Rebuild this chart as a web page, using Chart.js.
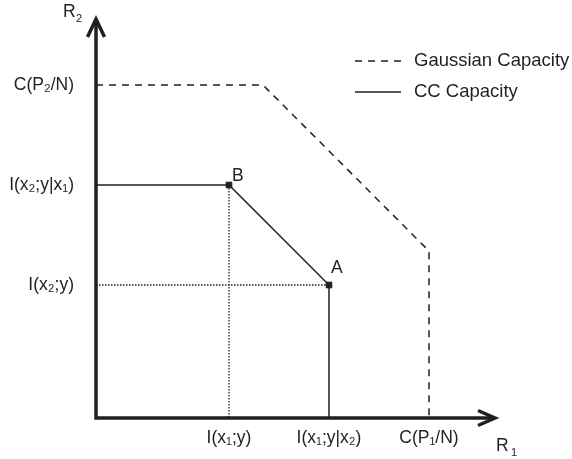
<!DOCTYPE html>
<html>
<head>
<meta charset="utf-8">
<script src="https://cdn.jsdelivr.net/npm/chart.js@4"></script>
<style>
  body { margin: 0; background: #fff; }
  canvas { display: block; }
</style>
</head>
<body>
<canvas id="rate" width="572" height="459"></canvas>
<script>
// rate region values (R1, R2)
const xTickValues = [1.33, 2.33, 3.33];
const xTickLabels = ['I(x₁;y)', 'I(x₁;y|x₂)', 'C(P₁/N)'];
const yTickValues = [1.33, 2.33, 3.33];
const yTickLabels = ['I(x₂;y)', 'I(x₂;y|x₁)', 'C(P₂/N)'];

const gaussR1 = [0, 1.67, 3.33, 3.33];
const gaussR2 = [3.33, 3.33, 1.67, 0];
const ccR1 = [0, 1.33, 2.33, 2.33];
const ccR2 = [2.33, 2.33, 1.33, 0];

const cornerNames = ['B', 'A'];
const cornerR1 = [1.33, 2.33];
const cornerR2 = [2.33, 1.33];

const axisMax = 4;
const ink = '#231f20';
const fontFam = "'Liberation Sans', Arial, sans-serif";

function pts(xs, ys) {
    return xs.map((x, i) => ({x: x, y: ys[i]}));
}

// where the corner letters sit relative to their point
const nameOffset = {B: [3, -4], A: [2, -12]};

// plugin: arrows, axis titles, point names and the legend
const extras = {
    id: 'extras',
    afterDatasetsDraw(chart) {
        const ctx = chart.ctx;
        const sx = chart.scales.x, sy = chart.scales.y;
        const x0 = sx.getPixelForValue(0), y0 = sy.getPixelForValue(0);
        const xEnd = sx.getPixelForValue(axisMax), yEnd = sy.getPixelForValue(axisMax);
        ctx.save();
        ctx.strokeStyle = ink;
        ctx.lineWidth = 3.5;
        ctx.lineJoin = 'miter';
        ctx.lineCap = 'butt';
        // axes
        ctx.beginPath();
        ctx.moveTo(x0, y0 + 1.7);
        ctx.lineTo(x0, yEnd + 1);
        ctx.moveTo(x0 - 1.7, y0);
        ctx.lineTo(xEnd - 1, y0);
        ctx.stroke();
        // arrow heads
        ctx.beginPath();
        ctx.moveTo(x0 - 8.5, yEnd + 19);
        ctx.lineTo(x0, yEnd + 1);
        ctx.lineTo(x0 + 8.5, yEnd + 19);
        ctx.moveTo(xEnd - 18, y0 - 7.5);
        ctx.lineTo(xEnd - 1, y0);
        ctx.lineTo(xEnd - 18, y0 + 7.5);
        ctx.stroke();

        ctx.fillStyle = ink;
        ctx.textBaseline = 'alphabetic';
        ctx.textAlign = 'left';
        // axis names
        ctx.font = '17.5px ' + fontFam;
        ctx.fillText('R', 63, 17);
        ctx.fillText('R', 496, 451);
        ctx.font = '11px ' + fontFam;
        ctx.fillText('2', 76, 22);
        ctx.fillText('1', 511, 456);

        // corner names
        ctx.font = '17.5px ' + fontFam;
        cornerNames.forEach((n, i) => {
            const px = sx.getPixelForValue(cornerR1[i]);
            const py = sy.getPixelForValue(cornerR2[i]);
            const off = nameOffset[n];
            ctx.fillText(n, px + off[0], py + off[1]);
        });

        // legend
        ctx.lineWidth = 1.5;
        ctx.strokeStyle = ink;
        const items = [
            {label: 'Gaussian Capacity', dash: [7, 6], y: 61},
            {label: 'CC Capacity', dash: [], y: 92}
        ];
        ctx.font = '18.5px ' + fontFam;
        ctx.textBaseline = 'middle';
        items.forEach(it => {
            ctx.setLineDash(it.dash);
            ctx.beginPath();
            ctx.moveTo(355, it.y);
            ctx.lineTo(401, it.y);
            ctx.stroke();
            ctx.fillText(it.label, 414, it.y);
        });
        ctx.restore();
    }
};

const tickFont = {family: fontFam, size: 17.5};

function noPad(s) {
    s.paddingTop = 0;
    s.paddingBottom = 0;
    s.paddingLeft = 0;
    s.paddingRight = 0;
}

new Chart(document.getElementById('rate'), {
    type: 'scatter',
    data: {
        datasets: [
            {
                label: 'Gaussian Capacity',
                data: pts(gaussR1, gaussR2),
                showLine: true,
                borderColor: ink,
                borderWidth: 1.5,
                borderDash: [7, 6],
                pointRadius: 0
            },
            {
                label: 'CC Capacity',
                data: pts(ccR1, ccR2),
                showLine: true,
                borderColor: ink,
                borderWidth: 1.5,
                pointRadius: 0
            },
            {
                label: 'guide B',
                data: [{x: cornerR1[0], y: cornerR2[0]}, {x: cornerR1[0], y: 0}],
                showLine: true,
                borderColor: ink,
                borderWidth: 1.3,
                borderDash: [1.5, 1.5],
                pointRadius: 0
            },
            {
                label: 'guide A',
                data: [{x: 0, y: cornerR2[1]}, {x: cornerR1[1], y: cornerR2[1]}],
                showLine: true,
                borderColor: ink,
                borderWidth: 1.3,
                borderDash: [1.5, 1.5],
                pointRadius: 0
            },
            {
                label: 'corners',
                data: pts(cornerR1, cornerR2),
                pointStyle: 'rect',
                pointRadius: 4,
                backgroundColor: ink,
                borderColor: ink,
                borderWidth: 1
            }
        ]
    },
    options: {
        responsive: false,
        animation: false,
        layout: {padding: {top: 18, right: 76, left: 0, bottom: 0}},
        plugins: {legend: {display: false}, tooltip: {enabled: false}},
        scales: {
            x: {
                type: 'linear',
                min: 0,
                max: axisMax,
                grid: {display: false, drawTicks: false},
                border: {display: false},
                afterBuildTicks: s => { s.ticks = xTickValues.map(v => ({value: v})); },
                afterFit: s => { s.height = 41; noPad(s); },
                ticks: {
                    autoSkip: false,
                    maxRotation: 0,
                    padding: 10,
                    color: ink,
                    font: tickFont,
                    callback: (v, i) => xTickLabels[i]
                }
            },
            y: {
                type: 'linear',
                min: 0,
                max: axisMax,
                grid: {display: false, drawTicks: false},
                border: {display: false},
                afterBuildTicks: s => { s.ticks = yTickValues.map(v => ({value: v})); },
                afterFit: s => { s.width = 96; noPad(s); },
                ticks: {
                    autoSkip: false,
                    padding: 22,
                    color: ink,
                    font: tickFont,
                    callback: (v, i) => yTickLabels[i]
                }
            }
        }
    },
    plugins: [extras]
});
</script>
</body>
</html>
